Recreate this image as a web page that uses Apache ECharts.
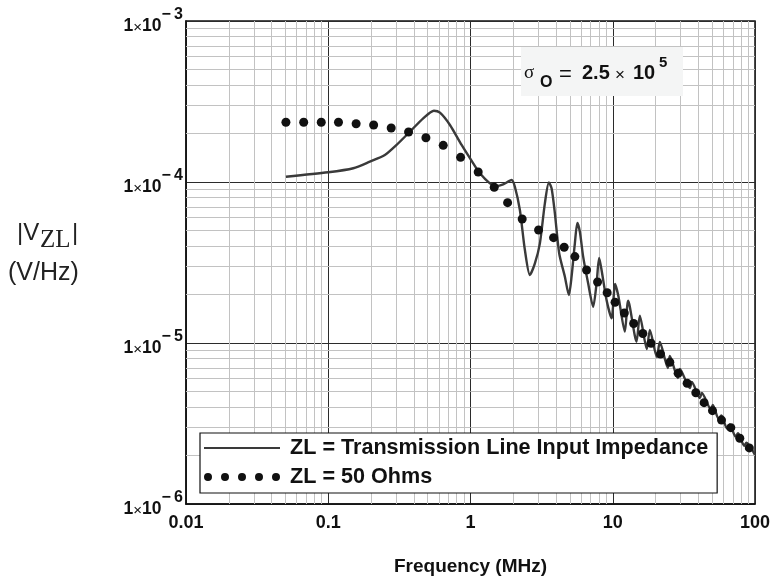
<!DOCTYPE html>
<html>
<head>
<meta charset="utf-8">
<script src="https://cdn.jsdelivr.net/npm/echarts@6/dist/echarts.min.js"></script>
<style>
  html, body { margin: 0; padding: 0; background: #fff; }
  #chart { width: 776px; height: 582px; }
</style>
</head>
<body>
<div id="chart"></div>
<script>
// Load voltage spectrum |V_ZL| versus frequency (MHz), log-log
const lineName = 'ZL = Transmission Line Input Impedance';
const dotsName = 'ZL = 50 Ohms';

// ZL = transmission line input impedance (solid trace)
const freqLine = [0.0504, 0.1, 0.150, 0.196, 0.250, 0.302, 0.375, 0.465, 0.553, 0.610,
  0.717, 0.866, 1.045, 1.164, 1.369, 1.525, 1.697, 1.945, 2.051, 2.224,
  2.412, 2.615, 2.836, 3.075, 3.333, 3.556, 3.715, 3.919, 4.201, 4.607,
  4.914, 5.134, 5.416, 5.640, 5.873, 6.194, 6.714, 7.283, 7.694, 8.025,
  8.343, 9.046, 9.81, 10.39, 10.95, 12.16, 12.83, 14.70, 15.50, 17.36,
  18.23, 20.41, 21.43, 24.39, 25.19, 28.68, 29.61, 34.83, 35.97, 40.94,
  42.29, 48.92, 50.51, 55.5, 58.0, 63.5, 66.5, 73.0, 76.0, 84.0,
  87.0, 100];
const magLine = [1.079e-4, 1.149e-4, 1.217e-4, 1.337e-4, 1.471e-4, 1.698e-4, 2.053e-4, 2.487e-4, 2.773e-4, 2.694e-4,
  2.26e-4, 1.698e-4, 1.306e-4, 1.132e-4, 9.81e-5, 9.44e-5, 9.67e-5, 1.029e-4, 9.35e-5, 6.70e-5,
  3.78e-5, 2.645e-5, 3.126e-5, 4.16e-5, 7.37e-5, 9.93e-5, 9.14e-5, 6.39e-5, 3.61e-5, 2.581e-5,
  1.987e-5, 2.581e-5, 4.16e-5, 5.56e-5, 4.91e-5, 3.44e-5, 2.349e-5, 1.680e-5, 2.349e-5, 3.37e-5,
  2.84e-5, 1.850e-5, 1.423e-5, 2.325e-5, 1.958e-5, 1.176e-5, 1.831e-5, 1.019e-5, 1.477e-5, 9.18e-6,
  1.204e-5, 8.18e-6, 1.014e-5, 7.00e-6, 8.31e-6, 6.06e-6, 6.90e-6, 5.25e-6, 5.73e-6, 4.55e-6,
  4.89e-6, 3.89e-6, 4.12e-6, 3.38e-6, 3.55e-6, 2.95e-6, 3.12e-6, 2.62e-6, 2.75e-6, 2.30e-6,
  2.40e-6, 2.015e-6];

// ZL = 50 Ohms (dotted trace)
const freq50 = [0.0504, 0.0672, 0.0893, 0.118, 0.157, 0.2085, 0.277, 0.367, 0.486, 0.643,
  0.852, 1.133, 1.468, 1.823, 2.308, 3.01, 3.837, 4.555, 5.416, 6.544,
  7.819, 9.134, 10.38, 12.06, 14.03, 16.27, 18.59, 21.67, 25.19, 28.82,
  33.34, 38.37, 43.88, 50.26, 58.17, 67.6, 78.2, 91.2];
const mag50 = [2.35e-4, 2.35e-4, 2.35e-4, 2.35e-4, 2.30e-4, 2.26e-4, 2.165e-4, 2.045e-4, 1.884e-4, 1.690e-4,
  1.423e-4, 1.153e-4, 9.27e-5, 7.44e-5, 5.89e-5, 5.03e-5, 4.51e-5, 3.93e-5, 3.44e-5, 2.84e-5,
  2.393e-5, 2.053e-5, 1.792e-5, 1.536e-5, 1.322e-5, 1.146e-5, 9.96e-6, 8.54e-6, 7.59e-6, 6.48e-6,
  5.62e-6, 4.91e-6, 4.26e-6, 3.80e-6, 3.32e-6, 2.98e-6, 2.56e-6, 2.23e-6];

// Axis ranges and tick labels
const xRange = [0.01, 100];
const yRange = [1e-6, 1e-3];
const xDecades = [-2, -1, 0, 1, 2];
const xTickLabels = ['0.01', '0.1', '1', '10', '100'];
const yDecades = [-6, -5, -4, -3];
const yTickExponents = ['\u2212\u20096', '\u2212\u20095', '\u2212\u20094', '\u2212\u20093'];

// Minor grid values (2..9 within each decade), drawn as full-height / full-width rules
const minorRules = [];
for (let k = -2; k < 2; k++) {
  for (let m = 2; m <= 9; m++) {
    const v = m * Math.pow(10, k);
    minorRules.push([{ coord: [v, yRange[0]] }, { coord: [v, yRange[1]] }]);
  }
}
for (let k = -6; k < -3; k++) {
  for (let m = 2; m <= 9; m++) {
    const v = m * Math.pow(10, k);
    minorRules.push([{ coord: [xRange[0], v] }, { coord: [xRange[1], v] }]);
  }
}

const SANS = '"Liberation Sans", Arial, Helvetica, sans-serif';
const SERIF = '"Liberation Serif", "Times New Roman", serif';

const chart = echarts.init(document.getElementById('chart'), null, { renderer: 'canvas' });

function decadeIndex(v, decades) {
  const e = Math.round(Math.log10(v));
  return decades.indexOf(e);
}

chart.setOption({
  animation: false,
  backgroundColor: '#fff',
  grid: {
    left: 186, right: 21, top: 21, bottom: 78,
    show: true, borderColor: '#111', borderWidth: 1.5, backgroundColor: 'transparent'
  },
  xAxis: {
    type: 'log', logBase: 10, min: xRange[0], max: xRange[1],
    name: 'Frequency (MHz)', nameLocation: 'middle', nameGap: 53,
    nameTextStyle: { fontFamily: SANS, fontWeight: 'bold', fontSize: 19, color: '#111' },
    axisLine: { show: true, lineStyle: { color: '#111', width: 1.5 } },
    axisTick: { show: false },
    axisLabel: {
      margin: 10, fontFamily: SANS, fontWeight: 'bold', fontSize: 18, color: '#111',
      formatter: v => { const i = decadeIndex(v, xDecades); return i >= 0 ? xTickLabels[i] : ''; }
    },
    splitLine: { show: true, lineStyle: { color: '#2b2b2b', width: 1 } },
    minorTick: { show: false }, minorSplitLine: { show: false }
  },
  yAxis: {
    type: 'log', logBase: 10, min: yRange[0], max: yRange[1],
    axisLine: { show: true, lineStyle: { color: '#111', width: 1.5 } },
    axisTick: { show: false },
    axisLabel: {
      margin: 3, color: '#111',
      formatter: v => {
        const i = decadeIndex(v, yDecades);
        if (i < 0) return '';
        return '{b|1}{x|\u00d7}{b|10}{s|' + yTickExponents[i] + '}';
      },
      rich: {
        b: { fontFamily: SANS, fontWeight: 'bold', fontSize: 17.5, color: '#111', padding: [10, 0, 0, 0], verticalAlign: 'bottom' },
        x: { fontFamily: SANS, fontWeight: 'normal', fontSize: 15, color: '#111', padding: [10, 0, 0, 0], verticalAlign: 'bottom' },
        s: { fontFamily: SANS, fontWeight: 'bold', fontSize: 16, color: '#111', lineHeight: 15, verticalAlign: 'top' }
      }
    },
    splitLine: { show: true, lineStyle: { color: '#2b2b2b', width: 1 } },
    minorTick: { show: false }, minorSplitLine: { show: false }
  },
  legend: {
    left: 200, top: 433, orient: 'vertical', z: 10,
    backgroundColor: '#fff', borderColor: '#111', borderWidth: 1.2,
    padding: [3, 9, 4, 4], itemGap: 5,
    itemWidth: 76, itemHeight: 9,
    selectedMode: false,
    textStyle: { fontFamily: SANS, fontWeight: 'bold', fontSize: 21.6, color: '#111', lineHeight: 24, padding: [0, 0, 0, 5] },
    data: [
      { name: lineName, icon: 'path://M0,0H76V2H0Z' },
      { name: dotsName, icon: 'path://M0,4a4,4 0 1,0 8,0a4,4 0 1,0 -8,0Z M17,4a4,4 0 1,0 8,0a4,4 0 1,0 -8,0Z M34,4a4,4 0 1,0 8,0a4,4 0 1,0 -8,0Z M51,4a4,4 0 1,0 8,0a4,4 0 1,0 -8,0Z M68,4a4,4 0 1,0 8,0a4,4 0 1,0 -8,0Z' }
    ]
  },
  graphic: [
    { type: 'rect', left: 521, top: 47, shape: { width: 162, height: 49 }, style: { fill: '#f4f5f5' }, z: 10 },
    { type: 'text', x: 524, y: 73, z: 11, style: { text: '\u03c3', font: '19px ' + SERIF, fill: '#111', verticalAlign: 'middle' } },
    { type: 'text', x: 540, y: 82.5, z: 11, style: { text: 'O', font: 'bold 16px ' + SANS, fill: '#111', verticalAlign: 'middle' } },
    { type: 'text', x: 559, y: 75, z: 11, style: { text: '=', font: '22px ' + SANS, fill: '#111', verticalAlign: 'middle' } },
    { type: 'text', x: 582, y: 73, z: 11, style: { text: '2.5', font: 'bold 20px ' + SANS, fill: '#111', verticalAlign: 'middle' } },
    { type: 'text', x: 615, y: 75, z: 11, style: { text: '\u00d7', font: '17px ' + SANS, fill: '#111', verticalAlign: 'middle' } },
    { type: 'text', x: 633, y: 73, z: 11, style: { text: '10', font: 'bold 20px ' + SANS, fill: '#111', verticalAlign: 'middle' } },
    { type: 'text', x: 659, y: 62.5, z: 11, style: { text: '5', font: 'bold 15px ' + SANS, fill: '#111', verticalAlign: 'middle' } },
    // y-axis title |V_ZL| (V/Hz)
    { type: 'text', x: 17, y: 233, style: { text: '|V', font: '24px ' + SANS, fill: '#222', verticalAlign: 'middle' } },
    { type: 'text', x: 40, y: 240, style: { text: 'ZL', font: '25px ' + SERIF, fill: '#222', verticalAlign: 'middle' } },
    { type: 'text', x: 72, y: 233, style: { text: '|', font: '24px ' + SANS, fill: '#222', verticalAlign: 'middle' } },
    { type: 'text', x: 8, y: 273, style: { text: '(V/Hz)', font: '25px ' + SANS, fill: '#222', verticalAlign: 'middle' } }
  ],
  series: [
    {
      name: 'minor-grid', type: 'line', data: [], z: 1, silent: true,
      markLine: {
        z: 1, silent: true, symbol: 'none', animation: false,
        label: { show: false },
        lineStyle: { color: '#c2c2c2', width: 1, type: 'solid' },
        emphasis: { disabled: true },
        data: minorRules
      }
    },
    {
      name: lineName, type: 'line', z: 3,
      data: freqLine.map((f, i) => [f, magLine[i]]),
      showSymbol: false, smooth: 0.25,
      color: '#3a3a3a',
      lineStyle: { color: '#3a3a3a', width: 2.4 }
    },
    {
      name: dotsName, type: 'scatter', z: 4,
      data: freq50.map((f, i) => [f, mag50[i]]),
      symbol: 'circle', symbolSize: 9,
      color: '#111',
      itemStyle: { color: '#111', opacity: 1 }
    }
  ]
});
</script>
</body>
</html>
